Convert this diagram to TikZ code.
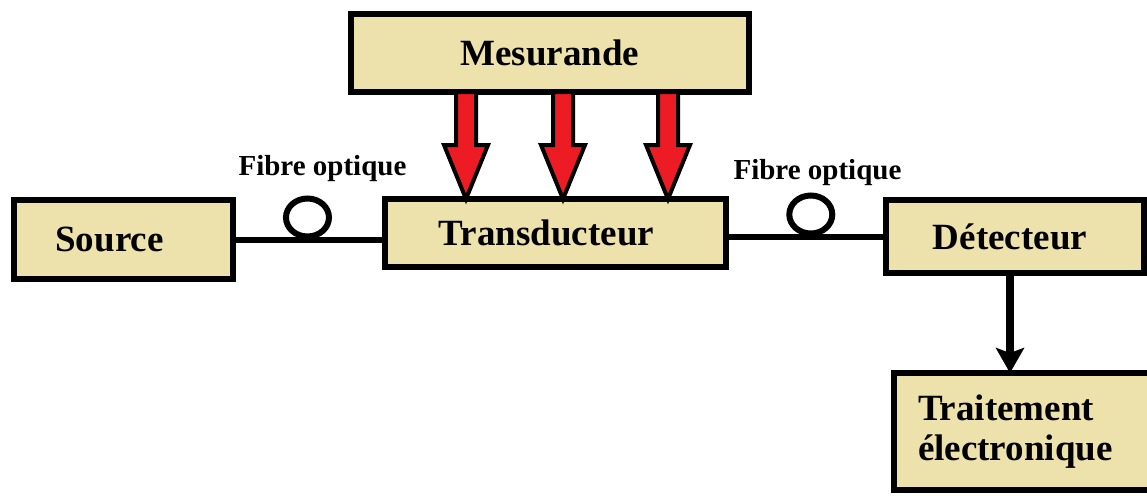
\documentclass[tikz,border=0pt]{standalone}
\usepackage{fontspec}
\setmainfont{Liberation Serif}
\usetikzlibrary{calc,arrows.meta}
\definecolor{boxfill}{HTML}{EEE2AC}
\definecolor{arrred}{HTML}{ED1C24}
\begin{document}
\begin{tikzpicture}[x=1pt,y=-1pt,
  box/.style={draw=black, line width=6pt, fill=boxfill, inner sep=0pt, outer sep=0pt,
              font=\fontsize{37}{40}\selectfont\bfseries},
  fiber/.style={line width=6pt},
  lbl/.style={font=\fontsize{29}{32}\selectfont\bfseries, inner sep=0pt, anchor=base},
  redarrow/.style={draw=black, line width=4pt, fill=arrred, line join=miter},
  downarr/.style={line width=8pt, -{Stealth[length=25pt,width=28pt,inset=5pt]}}
]
\useasboundingbox (0,0) rectangle (1147,495);
\clip (0,0) rectangle (1147,495);
\fill[white] (0,0) rectangle (1147,495);

\node[box, minimum width=398, minimum height=78] (mes) at (550,53) {Mesurande};
\node[box, minimum width=219, minimum height=79] (src) at (123.5,239.5) {\hspace*{-28pt}Source};
\node[box, minimum width=341, minimum height=68] (trans) at (555.5,233) {\hspace*{-18pt}Transducteur};
\node[box, minimum width=258, minimum height=73] (det) at (1015,236.5) {\hspace*{-10pt}Détecteur};
\node[box, anchor=west, minimum height=117, text width=232, inner xsep=24pt, align=left] (trait) at (894,431.5) {Traitement\\électronique};

\node[lbl] (f1) at (322.5,175) {Fibre optique};
\node[lbl] (f2) at (817.5,179) {Fibre optique};

% fibres
\draw[fiber] (src.east) -- (src.east -| trans.west) coordinate[pos=0.49] (l1);
\draw[fiber] (l1) ++(0,-22) ellipse [x radius=21.5, y radius=19];
\draw[fiber] (det.west -| trans.east) -- (det.west) coordinate[pos=0.53] (l2);
\draw[fiber] (l2) ++(0,-22) ellipse [x radius=21.5, y radius=19];

% red block arrows
\foreach \x in {466,563,668}{
  \coordinate (ta) at (mes.south -| \x,0);
  \coordinate (tb) at (trans.north -| \x,0);
  \draw[redarrow] ($(ta)+(-10,0)$) -- ($(tb)+(-10,-54)$) -- ($(tb)+(-22,-54)$) -- (tb)
     -- ($(tb)+(22,-54)$) -- ($(tb)+(10,-54)$) -- ($(ta)+(10,0)$) -- cycle;
}

% down arrow
\coordinate (d0) at ($(det.south)+(-5,0)$);
\draw[downarr] (d0) -- (d0 |- trait.north);
\end{tikzpicture}
\end{document}
